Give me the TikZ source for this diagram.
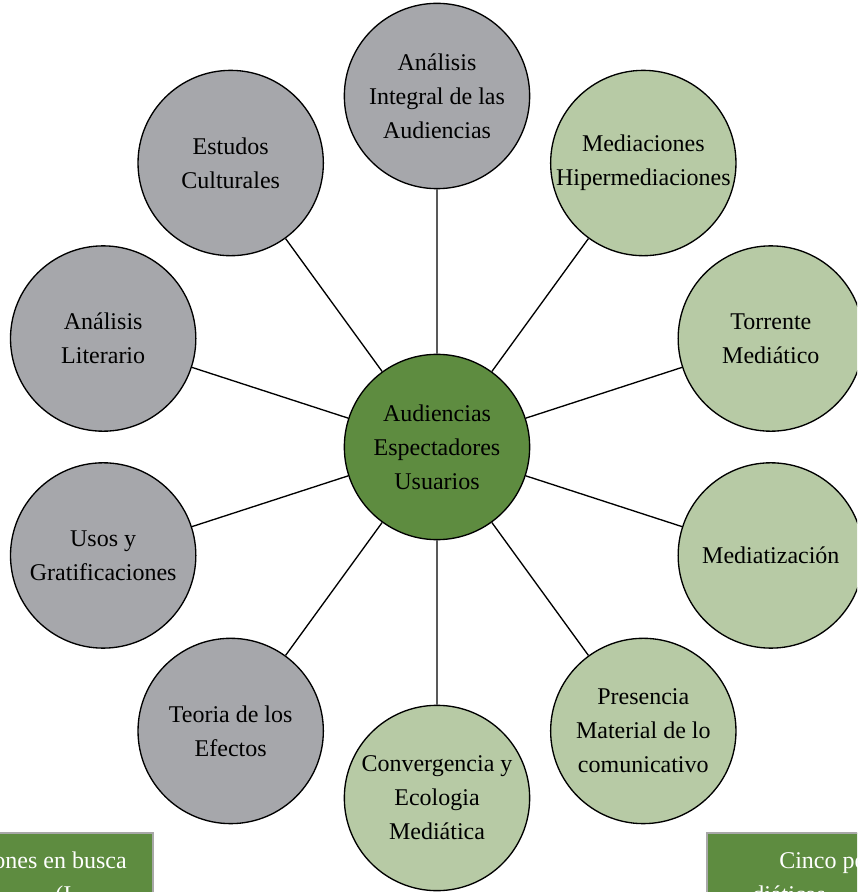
\documentclass[tikz,border=0pt]{standalone}
\usepackage{fontspec}
\setmainfont{Liberation Serif}
\definecolor{grisc}{RGB}{166,167,171}
\definecolor{verdec}{RGB}{183,202,165}
\definecolor{verdeo}{RGB}{94,140,64}
\definecolor{bordec}{RGB}{168,168,168}

\begin{document}
\begin{tikzpicture}[x=0.75pt,y=0.75pt,
    circulo/.style={circle,draw=black,line width=1pt,minimum size=139pt,inner sep=0pt,align=center,font=\fontsize{18}{25.5}\selectfont},
    gris/.style={circulo,fill=grisc},
    verde/.style={circulo,fill=verdec},
    caja/.style={fill=verdeo,draw=bordec,line width=2pt},
    textocaja/.style={text=white,inner sep=0pt,font=\fontsize{18}{25.5}\selectfont}]
      \useasboundingbox (-437,-445) rectangle (420,447);
      \clip (-437,-445) rectangle (420,447);

      \node[circulo,fill=verdeo] (centro) at (0,0) {Audiencias\\Espectadores\\Usuarios};
      \node[gris] (analisis) at (90:351) {Análisis\\Integral de las\\Audiencias};
      \node[verde] (mediaciones) at (54:351) {Mediaciones\\Hipermediaciones};
      \node[verde] (torrente) at (18:351) {Torrente\\Mediático};
      \node[verde] (mediatizacion) at (-18:351) {Mediatización};
      \node[verde] (presencia) at (-54:351) {Presencia\\Material de lo\\comunicativo};
      \node[verde] (convergencia) at (-90:351) {Convergencia y\\Ecologia\\Mediática};
      \node[gris] (efectos) at (-126:351) {Teoria de los\\Efectos};
      \node[gris] (usos) at (-162:351) {Usos y\\Gratificaciones};
      \node[gris] (literario) at (162:351) {Análisis\\Literario};
      \node[gris] (estudos) at (126:351) {Estudos\\Culturales};

      \draw[line width=1pt] (centro) -- (analisis) (centro) -- (mediaciones)
        (centro) -- (torrente) (centro) -- (mediatizacion) (centro) -- (presencia)
        (centro) -- (convergencia) (centro) -- (efectos) (centro) -- (usos)
        (centro) -- (literario) (centro) -- (estudos);

      \filldraw[caja] (-450,-386) rectangle (-284,-470);
      \node[textocaja,anchor=base east] (caja1a) at (-310,-421) {ones en busca};
      \node[textocaja,anchor=base west] (caja1b) at (-382,-455) {(I};

      \filldraw[caja] (270,-386) rectangle (440,-470);
      \node[textocaja,anchor=base west] (caja2a) at (342,-421) {Cinco pe};
      \node[textocaja,anchor=base west] (caja2b) at (315,-455) {diáticas};
\end{tikzpicture}
\end{document}
